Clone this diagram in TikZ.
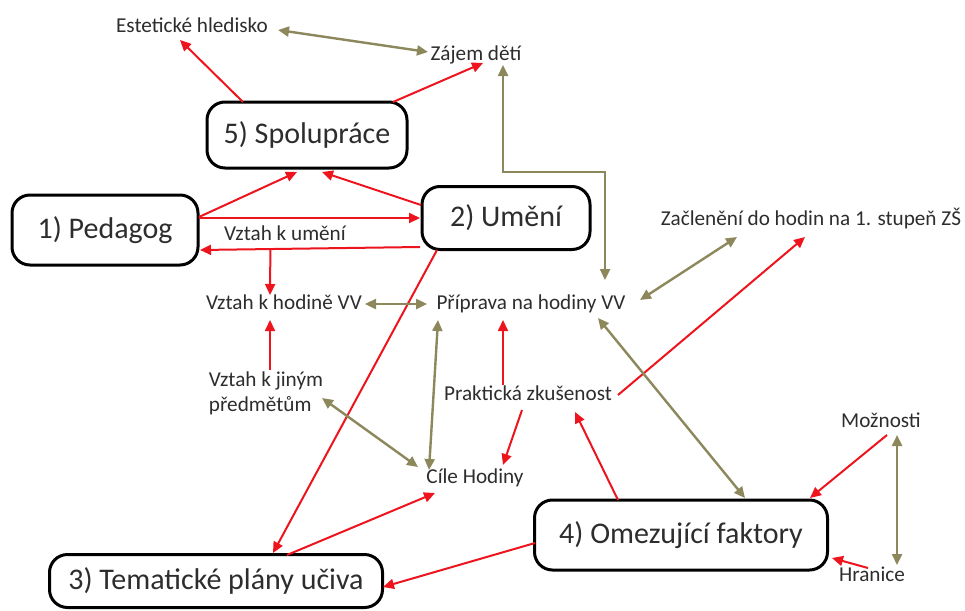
\documentclass[tikz,border=0pt]{standalone}
\usepackage{fontspec}
\setmainfont{Carlito}
\usepackage{xcolor}
\usetikzlibrary{arrows.meta,calc}

\definecolor{ink}{RGB}{45,45,45}
\definecolor{olivearrow}{RGB}{140,136,92}
\definecolor{redarrow}{RGB}{238,20,30}

\tikzset{
  factor/.style={draw=black, line width=3pt, rounded corners=18pt, align=center,
    font=\fontsize{30}{34}\selectfont, text=ink},
  item/.style={inner sep=0pt, text height=16pt, text depth=5pt,
    font=\fontsize{21.2}{25}\selectfont, text=ink},
  rel/.style={draw=redarrow, line width=2pt, -{Triangle[length=11pt,width=10pt]}},
  mut/.style={draw=olivearrow, line width=2.4pt,
    {Triangle[length=11pt,width=10pt]}-{Triangle[length=11pt,width=10pt]}}
}

\begin{document}
\begin{tikzpicture}[x=1pt, y=-1pt]
  \useasboundingbox (0,0) rectangle (965,610);

  % main boxes
  \node[factor, minimum width=200pt, minimum height=66pt] (spol) at (307,135) {5) Spolupráce};
  \node[factor, minimum width=186pt, minimum height=70pt] (ped) at (105,230) {1) Pedagog};
  \node[factor, minimum width=168pt, minimum height=63pt] (umeni) at (506,218) {2) Umění};
  \node[factor, minimum width=333pt, minimum height=53pt] (tema) at (216,581) {3) Tematické plány učiva};
  \node[factor, minimum width=293pt, minimum height=70pt] (omez) at (681,535) {4) Omezující faktory};

  % small items
  \node[item] (est) at (192,27) {Estetické hledisko};
  \node[item] (zajem) at (476,55) {Zájem dětí};
  \node[item] (vztahum) at (285,235) {Vztah k umění};
  \node[item] (hodina) at (284,304) {Vztah k hodině VV};
  \node[item] (priprava) at (531,304) {Příprava na hodiny VV};
  \node[item] (zacl) at (811,220) {Začlenění do hodin na 1. stupeň ZŠ};
  \node[item, align=left, text height=, text depth=] (jinym) at (266,393) {Vztah k jiným\\předmětům};
  \node[item] (prakt) at (528,395) {Praktická zkušenost};
  \node[item] (cile) at (475,478) {Cíle Hodiny};
  \node[item] (moznosti) at (881,422) {Možnosti};
  \node[item] (hranice) at (872,576) {Hranice};

  % red relations
  \draw[rel] ($(spol)+(-64,-33)$) -- ($(est)+(-12,13)$);
  \draw[rel] ($(spol)+(86,-33)$) -- ($(zajem)+(7,8)$);
  \draw[rel] ($(ped)+(94,-13)$) -- ($(spol)+(-10,37)$);
  \draw[rel] ($(umeni)+(-85,-13)$) -- ($(spol)+(15,37)$);
  \draw[rel] ($(ped)+(94,-12)$) -- ($(umeni)+(-86,0)$);
  \draw[rel] ($(umeni)+(-86,29)$) -- coordinate[pos=0.68] (split) ($(ped)+(95,20)$);
  \draw[rel] (split) -- ($(hodina)+(-14,-9)$);
  \draw[rel] ($(jinym)+(4,-23)$) -- ($(hodina)+(-14,16)$);
  \draw[rel] ($(umeni)+(-69,32)$) -- ($(tema)+(57,-28)$);
  \draw[rel] ($(tema)+(71,-26)$) -- ($(cile)+(-40,15)$);
  \draw[rel] ($(prakt)+(-25,-10)$) -- ($(priprava)+(-28,16)$);
  \draw[rel] ($(prakt)+(90,0)$) -- ($(zacl)+(-6,17)$);
  \draw[rel] ($(prakt)+(-6,15)$) -- ($(cile)+(28,-13)$);
  \draw[rel] ($(omez)+(-63,-35)$) -- ($(prakt)+(47,17)$);
  \draw[rel] ($(omez)+(-146,8)$) -- ($(tema)+(167,6)$);
  \draw[rel] ($(moznosti)+(6,13)$) -- ($(omez)+(129,-37)$);
  \draw[rel] ($(hranice)+(-4,-8)$) -- ($(omez)+(151,23)$);

  % olive mutual links
  \draw[mut] ($(est)+(86,3)$) -- ($(zajem)+(-48,-3)$);
  \draw[mut] ($(priprava)+(74,-24)$) -- ++(0,-108) -| ($(zajem)+(27,10)$);
  \draw[mut] ($(hodina)+(81,0)$) -- ($(priprava)+(-104,0)$);
  \draw[mut] ($(priprava)+(109,-4)$) -- ($(zacl)+(-74,17)$);
  \draw[mut] ($(priprava)+(67,14)$) -- ($(omez)+(64,-37)$);
  \draw[mut] ($(jinym)+(56,5)$) -- ($(cile)+(-57,-11)$);
  \draw[mut] ($(priprava)+(-93,16)$) -- ($(cile)+(-46,-8)$);
  \draw[mut] ($(moznosti)+(16,13)$) -- ($(hranice)+(25,-11)$);
\end{tikzpicture}
\end{document}
